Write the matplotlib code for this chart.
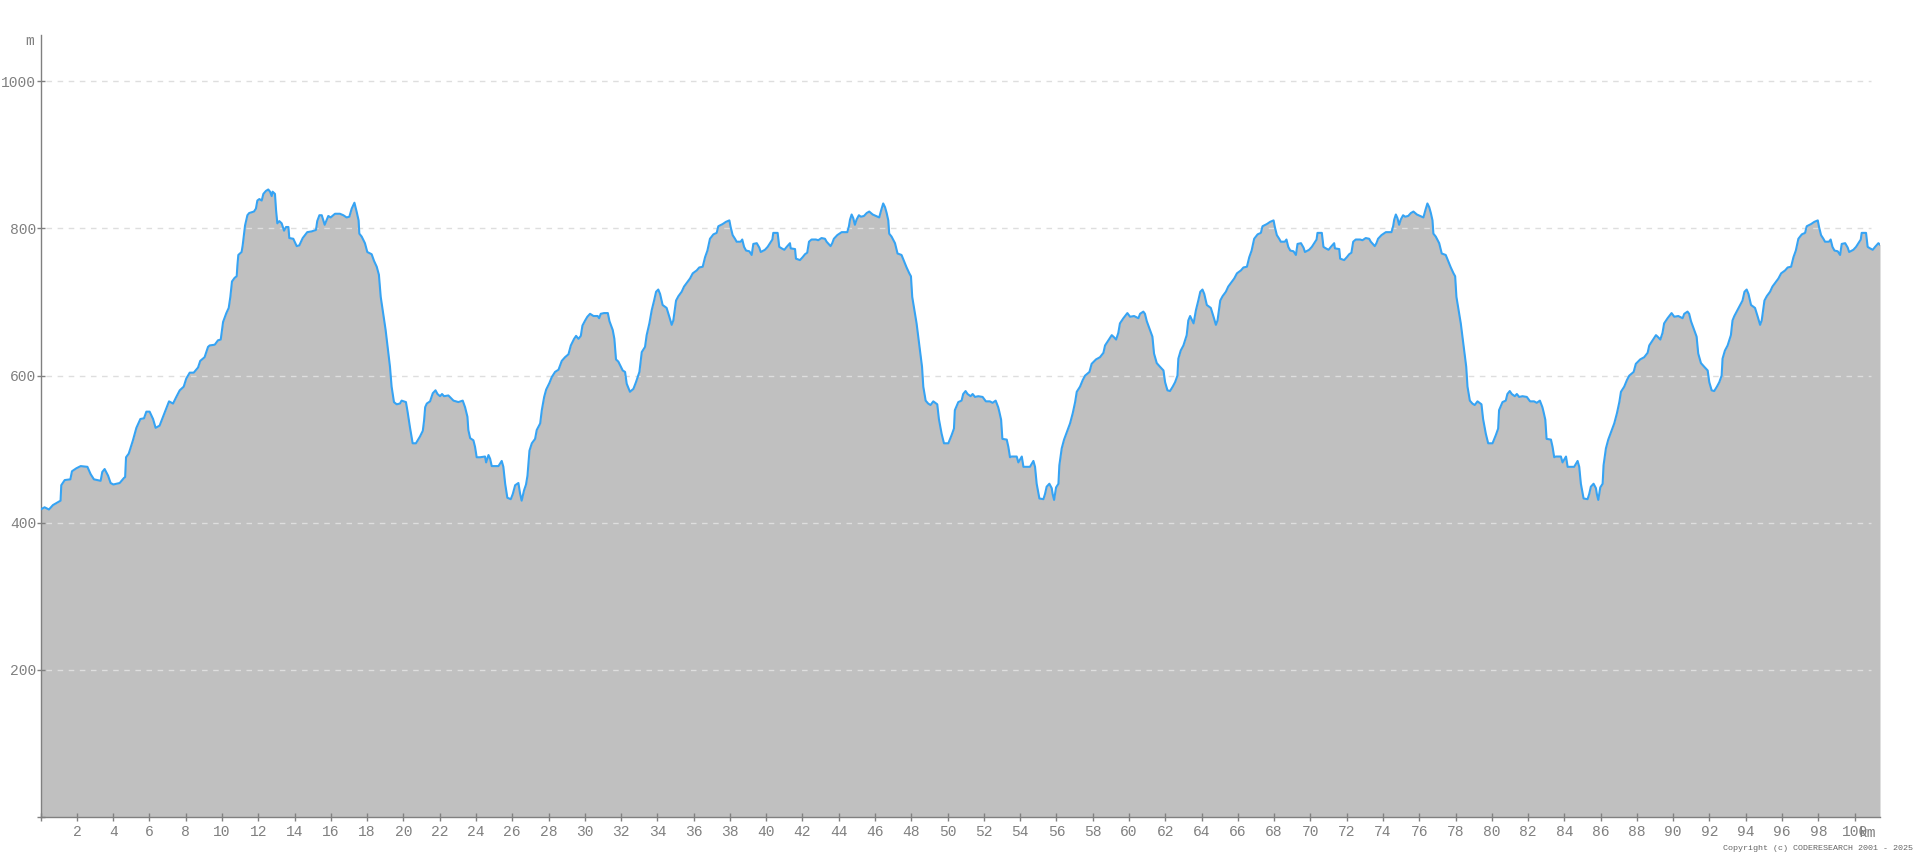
import matplotlib.pyplot as plt

# elevation profile, distance in km and elevation in m
seg1_km = [0.0, 0.22, 0.46, 0.68, 0.96, 1.1, 1.14, 1.33, 1.64, 1.73, 1.97, 2.21, 2.58, 2.76, 2.94,
           3.31, 3.4, 3.53, 3.72, 3.86, 4.01, 4.36, 4.6, 4.66, 4.71, 4.86, 5.09, 5.28, 5.5, 5.7,
           5.83, 6.01, 6.2, 6.34, 6.56, 6.75, 6.93, 7.08, 7.3, 7.48, 7.67, 7.89, 8.03, 8.22, 8.44,
           8.68, 8.8, 9.04, 9.23, 9.32, 9.6, 9.78, 9.93, 10.06, 10.24, 10.37, 10.46, 10.55, 10.7,
           10.81, 10.85, 10.9, 11.08, 11.14, 11.27, 11.4, 11.5, 11.76, 11.87, 11.95, 12.06, 12.19,
           12.28, 12.42, 12.55, 12.65, 12.74, 12.79, 12.92, 12.98, 13.05, 13.16, 13.29, 13.42,
           13.53, 13.66, 13.71, 13.93, 14.12, 14.26, 14.45, 14.7, 14.94, 15.18, 15.25, 15.37,
           15.5, 15.66, 15.86, 15.99, 16.23, 16.5, 16.69, 16.87, 17.02, 17.15, 17.3, 17.42, 17.53,
           17.57, 17.7, 17.88, 18.01, 18.25, 18.38, 18.53, 18.65, 18.75, 18.89, 19.02, 19.13,
           19.26, 19.35, 19.48, 19.63, 19.81, 19.9, 20.14, 20.23, 20.36, 20.51, 20.69, 20.91]
seg1_m = [418, 421, 418, 424, 428, 430, 451, 458, 459, 470, 474, 477, 476, 466, 459,
          457, 469, 473, 464, 454, 452, 454, 461, 462, 489, 494, 512, 529, 541, 542,
          551, 551, 541, 529, 532, 544, 555, 565, 562, 571, 580, 585, 596, 604, 604,
          611, 620, 625, 639, 641, 642, 648, 649, 673, 685, 692, 707, 728, 733,
          735, 750, 764, 768, 777, 804, 818, 821, 823, 827, 838, 840, 838,
          847, 851, 853, 850, 844, 850, 847, 825, 807, 810, 807, 797,
          802, 802, 787, 786, 776, 777, 787, 795, 796, 798, 810, 818,
          818, 805, 817, 815, 820, 820, 818, 815, 816, 827, 835, 823, 811,
          793, 789, 780, 768, 765, 756, 748, 737, 707, 684, 662, 639,
          612, 585, 564, 561, 562, 566, 564, 551, 530, 508, 508, 517]

seg2_km = [21.07, 21.14, 21.2, 21.29, 21.47, 21.62, 21.77, 21.88, 22.02, 22.13, 22.24, 22.48,
           22.76, 23.03, 23.27, 23.4, 23.53, 23.58, 23.68, 23.86, 23.95, 24.04, 24.23, 24.5,
           24.56, 24.69, 24.78, 24.87, 25.24, 25.42, 25.51, 25.61, 25.73, 25.92, 26.03, 26.16,
           26.34, 26.43, 26.52, 26.65, 26.76, 26.84, 26.89, 26.95, 27.08, 27.26, 27.35, 27.54,
           27.63, 27.76, 27.87, 28.05, 28.18, 28.36, 28.55, 28.73, 28.91, 29.1, 29.23, 29.41,
           29.52, 29.65, 29.78, 29.87, 30.02, 30.14, 30.29, 30.48, 30.71, 30.79, 30.88, 31.06,
           31.27, 31.36, 31.54, 31.63, 31.72, 31.85, 32.09, 32.22, 32.31, 32.49, 32.68, 32.82,
           33.01, 33.14, 33.32, 33.41, 33.56, 33.69, 33.82, 33.93, 34.05, 34.15, 34.29, 34.51,
           34.66, 34.79, 34.88, 35.03, 35.16, 35.34, 35.47, 35.62, 35.8, 35.95, 36.17, 36.31,
           36.5, 36.63, 36.76, 36.9, 37.09, 37.27, 37.36, 37.6, 37.78, 37.97, 38.04, 38.15,
           38.28, 38.37, 38.59, 38.68, 38.78, 38.89, 39.07, 39.2, 39.29, 39.48, 39.62, 39.7,
           39.93, 40.08, 40.21, 40.34, 40.39, 40.63, 40.72, 40.85, 41.0, 41.13, 41.31, 41.35,
           41.59, 41.64, 41.86]
seg2_m = [525, 539, 557, 562, 565, 576, 580, 575, 572, 575, 572, 573,
          566, 564, 566, 557, 544, 526, 515, 512, 503, 489, 489, 490,
          482, 492, 487, 477, 477, 484, 476, 453, 434, 432, 439, 451,
          454, 440, 430, 444, 452, 464, 480, 498, 508, 514, 526, 535,
          553, 571, 581, 590, 598, 605, 608, 620, 625, 629, 641, 650,
          654, 650, 654, 668, 675, 680, 684, 681, 681, 678, 684, 685,
          685, 674, 662, 650, 622, 619, 607, 605, 589, 578, 582, 591,
          605, 632, 639, 655, 671, 689, 702, 714, 717, 711, 696, 692,
          680, 669, 675, 702, 708, 714, 721, 726, 732, 739, 743, 747,
          748, 761, 770, 786, 792, 794, 803, 806, 809, 811, 802, 791,
          786, 782, 782, 785, 775, 770, 769, 764, 779, 780, 774, 768,
          771, 775, 780, 785, 794, 794, 775, 773, 771, 775, 780, 773,
          772, 759, 757]

seg3_km = [42.01, 42.14, 42.26, 42.36, 42.5, 42.74, 42.87, 43.05, 43.24, 43.33, 43.55, 43.64,
           43.73, 43.92, 44.16, 44.47, 44.56, 44.62, 44.71, 44.8, 44.89, 44.98, 45.11, 45.22,
           45.39, 45.54, 45.68, 45.87, 46.05, 46.23, 46.34, 46.45, 46.55, 46.64, 46.73, 46.78,
           46.91, 47.1, 47.24, 47.46, 47.59, 47.74, 47.89, 47.98, 48.05, 48.2, 48.29, 48.38,
           48.48, 48.59, 48.66, 48.79, 48.93, 49.06, 49.21, 49.43, 49.52, 49.67, 49.8, 50.04,
           50.22, 50.35, 50.4, 50.59, 50.77, 50.86, 50.99, 51.1, 51.27, 51.38, 51.51, 51.69,
           51.93, 52.11, 52.33, 52.48, 52.65, 52.79, 52.85, 52.95, 53.02, 53.26, 53.35, 53.44,
           53.53, 53.81, 53.9, 54.09, 54.18, 54.54, 54.73, 54.82, 54.91, 55.06, 55.28, 55.37,
           55.46, 55.61, 55.74, 55.79, 55.87, 55.98, 56.11, 56.16, 56.29, 56.42, 56.6, 56.75,
           56.9, 57.03, 57.12, 57.3, 57.45, 57.58, 57.82, 57.94, 58.18, 58.4, 58.59, 58.68,
           58.81, 59.05, 59.18, 59.29, 59.41, 59.5, 59.69, 59.91, 60.06, 60.28, 60.52, 60.61,
           60.79, 60.88, 60.98, 61.16, 61.29, 61.38, 61.53, 61.71, 61.9, 61.99, 62.12, 62.26,
           62.41, 62.54, 62.67, 62.72, 62.85, 63.0, 63.09, 63.18, 63.27, 63.37]
seg3_m = [761, 765, 767, 782, 785, 785, 784, 787, 786, 782, 776, 780,
          786, 791, 795, 795, 803, 812, 819, 814, 805, 812, 818, 816,
          817, 821, 823, 819, 817, 815, 825, 834, 829, 821, 811, 793,
          789, 780, 766, 764, 756, 747, 739, 735, 707, 684, 671, 653,
          634, 612, 585, 566, 562, 560, 565, 561, 541, 521, 508, 508,
          519, 528, 553, 564, 566, 575, 579, 575, 572, 575, 571, 572,
          571, 565, 565, 563, 566, 557, 551, 540, 514, 513, 503, 489,
          490, 490, 482, 490, 476, 476, 484, 476, 453, 433, 432, 439,
          449, 453, 447, 439, 431, 448, 453, 478, 501, 513, 525, 535,
          549, 564, 578, 585, 594, 600, 605, 616, 622, 625, 631, 641,
          646, 655, 652, 649, 658, 671, 678, 685, 680, 681, 678, 684,
          687, 684, 674, 662, 653, 630, 617, 612, 607, 591, 580, 579,
          585, 591, 600, 623, 634, 641, 648, 655, 675, 681]

seg4_km = [63.56, 63.69, 63.82, 63.93, 64.05, 64.15, 64.29, 64.51, 64.66, 64.79, 64.88, 65.03,
           65.16, 65.34, 65.47, 65.62, 65.8, 65.95, 66.17, 66.31, 66.5, 66.63, 66.76, 66.9,
           67.09, 67.27, 67.36, 67.6, 67.78, 67.97, 68.04, 68.15, 68.28, 68.37, 68.59, 68.68,
           68.78, 68.89, 69.07, 69.2, 69.29, 69.48, 69.62, 69.7, 69.93, 70.08, 70.21, 70.34,
           70.39, 70.63, 70.72, 70.85, 71.0, 71.13, 71.31, 71.35, 71.59, 71.64, 71.86, 72.01,
           72.14, 72.26, 72.36, 72.5, 72.74, 72.87, 73.05, 73.24, 73.33, 73.55, 73.64, 73.73,
           73.92, 74.16, 74.47, 74.56, 74.62, 74.71, 74.8, 74.89, 74.98, 75.11, 75.22, 75.39,
           75.54, 75.68, 75.87, 76.05, 76.23, 76.34, 76.45, 76.55, 76.64, 76.73, 76.78, 76.91,
           77.1, 77.24, 77.46, 77.59, 77.74, 77.89, 77.98, 78.05, 78.2, 78.29, 78.38, 78.48,
           78.59, 78.66, 78.79, 78.93, 79.06, 79.21, 79.43, 79.52, 79.67, 79.8, 80.04, 80.22,
           80.35, 80.4, 80.59, 80.77, 80.86, 80.99, 81.1, 81.27, 81.38, 81.51, 81.69, 81.93,
           82.11, 82.33]
seg4_m = [671, 689, 702, 714, 717, 711, 696, 692, 680, 669, 675, 702,
          708, 714, 721, 726, 732, 739, 743, 747, 748, 761, 770, 786,
          792, 794, 803, 806, 809, 811, 802, 791, 786, 782, 782, 785,
          775, 770, 769, 764, 779, 780, 774, 768, 771, 775, 780, 785,
          794, 794, 775, 773, 771, 775, 780, 773, 772, 759, 757, 761,
          765, 767, 782, 785, 785, 784, 787, 786, 782, 776, 780, 786,
          791, 795, 795, 803, 812, 819, 814, 805, 812, 818, 816, 817,
          821, 823, 819, 817, 815, 825, 834, 829, 821, 811, 793, 789,
          780, 766, 764, 756, 747, 739, 735, 707, 684, 671, 653, 634,
          612, 585, 566, 562, 560, 565, 561, 541, 521, 508, 508, 519,
          528, 553, 564, 566, 575, 579, 575, 572, 575, 571, 572, 571,
          565, 565]

seg5_km = [82.48, 82.65, 82.79, 82.85, 82.95, 83.02, 83.26, 83.35, 83.44, 83.53, 83.81, 83.9,
           84.09, 84.18, 84.54, 84.73, 84.82, 84.91, 85.06, 85.28, 85.37, 85.46, 85.61, 85.74,
           85.79, 85.87, 85.98, 86.11, 86.16, 86.29, 86.42, 86.6, 86.75, 86.9, 87.03, 87.12,
           87.3, 87.45, 87.58, 87.82, 87.94, 88.18, 88.4, 88.59, 88.68, 88.81, 89.05, 89.18,
           89.29, 89.41, 89.5, 89.69, 89.91, 90.06, 90.28, 90.52, 90.61, 90.79, 90.88, 90.98,
           91.16, 91.29, 91.38, 91.53, 91.71, 91.9, 91.99, 92.12, 92.26, 92.41, 92.54, 92.67,
           92.72, 92.85, 93.0, 93.09, 93.18, 93.27, 93.37, 93.82, 93.93, 94.05, 94.15, 94.29,
           94.51, 94.66, 94.79, 94.88, 95.03, 95.16, 95.34, 95.47, 95.62, 95.8, 95.95, 96.17,
           96.31, 96.5, 96.63, 96.76, 96.9, 97.09, 97.27, 97.36, 97.6, 97.78, 97.97, 98.04,
           98.15, 98.28, 98.37, 98.59, 98.68, 98.78, 98.89, 99.07, 99.2, 99.29, 99.48, 99.62,
           99.7, 99.93, 100.08, 100.21, 100.34, 100.39, 100.63, 100.72, 100.85, 101.0, 101.13,
           101.31, 101.4]
seg5_m = [563, 566, 557, 551, 540, 514, 513, 503, 489, 490, 490, 482,
          490, 476, 476, 484, 476, 453, 433, 432, 439, 449, 453, 447,
          439, 431, 448, 453, 478, 501, 513, 525, 535, 549, 564, 578,
          585, 594, 600, 605, 616, 622, 625, 631, 641, 646, 655, 652,
          649, 658, 671, 678, 685, 680, 681, 678, 684, 687, 684, 674,
          662, 653, 630, 617, 612, 607, 591, 580, 579, 585, 591, 600,
          623, 634, 641, 648, 655, 675, 681, 702, 714, 717, 711, 696,
          692, 680, 669, 675, 702, 708, 714, 721, 726, 732, 739, 743,
          747, 748, 761, 770, 786, 792, 794, 803, 806, 809, 811, 802,
          791, 786, 782, 782, 785, 775, 770, 769, 764, 779, 780, 774,
          768, 771, 775, 780, 785, 794, 794, 775, 773, 771, 775,
          780, 778]

y_ticks = [0, 200, 400, 600, 800, 1000]
x_ticks = list(range(0, 101, 2))

km = seg1_km + seg2_km + seg3_km + seg4_km + seg5_km
elev = seg1_m + seg2_m + seg3_m + seg4_m + seg5_m

W, H = 1920, 857
fig = plt.figure(figsize=(W / 100, H / 100), dpi=100)
ax = fig.add_axes([40.6 / W, 40 / H, (1880 - 40.6) / W, 782 / H])

ax.fill_between(km, elev, 0, color="#c0c0c0", linewidth=0, zorder=1)
ax.hlines(y_ticks[1:], 0.3, 100.9, colors="#dedede", linestyles=(0, (4, 4)),
          linewidth=1, zorder=2)
ax.plot(km, elev, color="#36a3f3", linewidth=1.5, zorder=3)

ax.set_xlim(0, 101.4)
ax.set_ylim(0, 1063)
ax.set_xticks(x_ticks)
ax.set_xticklabels(["" if t == 0 else str(t) for t in x_ticks])
ax.set_yticks(y_ticks)
ax.set_yticklabels(["" if t == 0 else str(t) for t in y_ticks])

gray = "#808080"
ax.tick_params(direction="inout", length=6, width=1, color=gray, labelcolor=gray,
               labelsize=10.5)
ax.tick_params(axis="x", pad=3)
ax.tick_params(axis="y", pad=0)
for lbl in ax.get_xticklabels() + ax.get_yticklabels():
    lbl.set_family("Liberation Mono")
for side in ["top", "right"]:
    ax.spines[side].set_visible(False)
for side in ["left", "bottom"]:
    ax.spines[side].set_color(gray)
    ax.spines[side].set_linewidth(1)

fig.text(30 / W, 1 - 41 / H, "m", ha="center", va="center", color=gray,
         fontsize=10.5, family="Liberation Mono")
fig.text(1876 / W, 1 - 833 / H, "km", ha="right", va="center", color=gray,
         fontsize=10.5, family="Liberation Mono")
fig.text(1913 / W, 1 - 848 / H, "Copyright (c) CODERESEARCH 2001 - 2025", ha="right",
         va="center", color="#666666", fontsize=6, family="Liberation Mono")

fig.savefig("out.png", dpi=100)
